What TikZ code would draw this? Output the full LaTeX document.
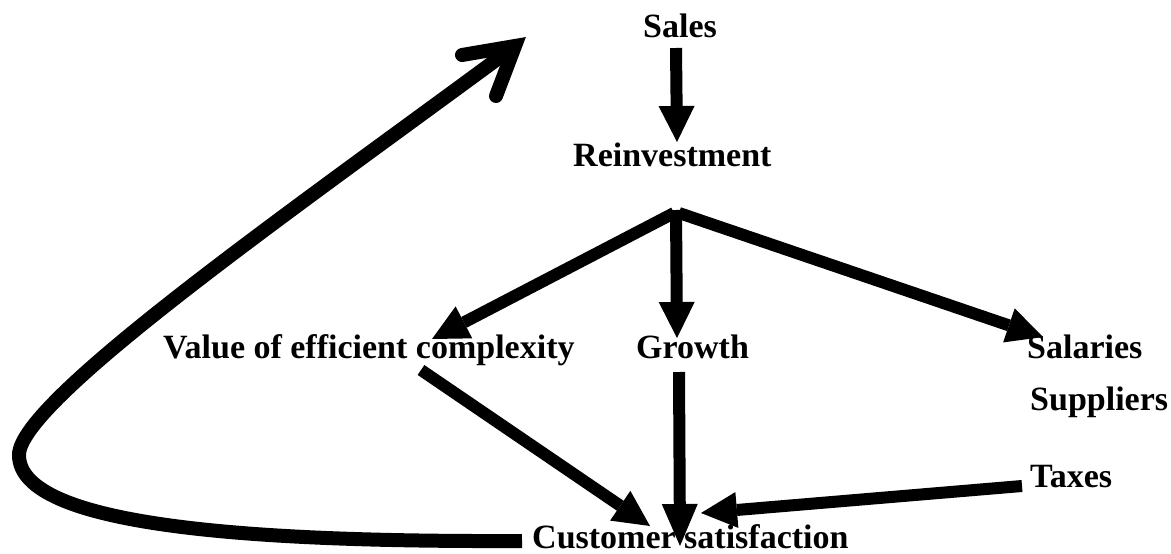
\documentclass[tikz,border=0pt]{standalone}
\usepackage{fontspec}
\setmainfont{Liberation Serif}
\usetikzlibrary{arrows.meta}
\begin{document}
\begin{tikzpicture}[x=1pt,y=-1pt,
  lbl/.style={font=\fontsize{34}{40}\selectfont\bfseries, inner sep=0pt, anchor=base west},
  conn/.style={line width=12pt, -{Triangle[length=36pt,width=36pt,line width=0pt]}},
  connlong/.style={line width=12pt, -{Triangle[length=42pt,width=36pt,line width=0pt]}},
  loopline/.style={line width=14pt}]
\useasboundingbox (0,0) rectangle (1171,554);
% labels
\node[lbl] (sales) at (643,37) {Sales};
\node[lbl] (reinv) at (573,166) {Reinvestment};
\node[lbl] (value) at (163,358) {Value of efficient complexity};
\node[lbl] (growth) at (636,358) {Growth};
\node[lbl] (salaries) at (1027,358) {Salaries};
\node[lbl] (suppliers) at (1030,410) {Suppliers};
\node[lbl] (taxes) at (1030,487) {Taxes};
\node[lbl] (cust) at (532,548) {Customer satisfaction};
% connector end points
\coordinate (salesOut) at (676,48);
\coordinate (reinvIn) at (677,142);
\coordinate (forkL) at (674,213);
\coordinate (forkM) at (676,210);
\coordinate (forkR) at (679,213);
\coordinate (valueIn) at (432,339);
\coordinate (growthIn) at (677,338);
\coordinate (salariesIn) at (1043,337);
\coordinate (valueOut) at (421,370);
\coordinate (growthOut) at (679,372);
\coordinate (taxesOut) at (1022,486);
\coordinate (custInL) at (650,526);
\coordinate (custInM) at (680,546);
\coordinate (custInR) at (701,513);
\coordinate (custOut) at (522,541);
\coordinate (loopEnd) at (515,46);
\coordinate (barbA) at (462,55);
\coordinate (barbB) at (496,96);
% connectors
\draw[conn] (salesOut) -- (reinvIn);
\draw[conn] (forkL) -- (valueIn);
\draw[conn] (forkM) -- (growthIn);
\draw[conn] (forkR) -- (salariesIn);
\draw[conn] (valueOut) -- (custInL);
\draw[connlong] (growthOut) -- (custInM);
\draw[conn] (taxesOut) -- (custInR);
% feedback loop
\draw[loopline] (custOut) .. controls (260,542) and (19,528) .. (19,455)
  .. controls (19,400) and (300,205) .. (loopEnd);
\draw[loopline, line cap=round, line join=miter] (barbA) -- (loopEnd) -- (barbB);
\end{tikzpicture}
\end{document}
